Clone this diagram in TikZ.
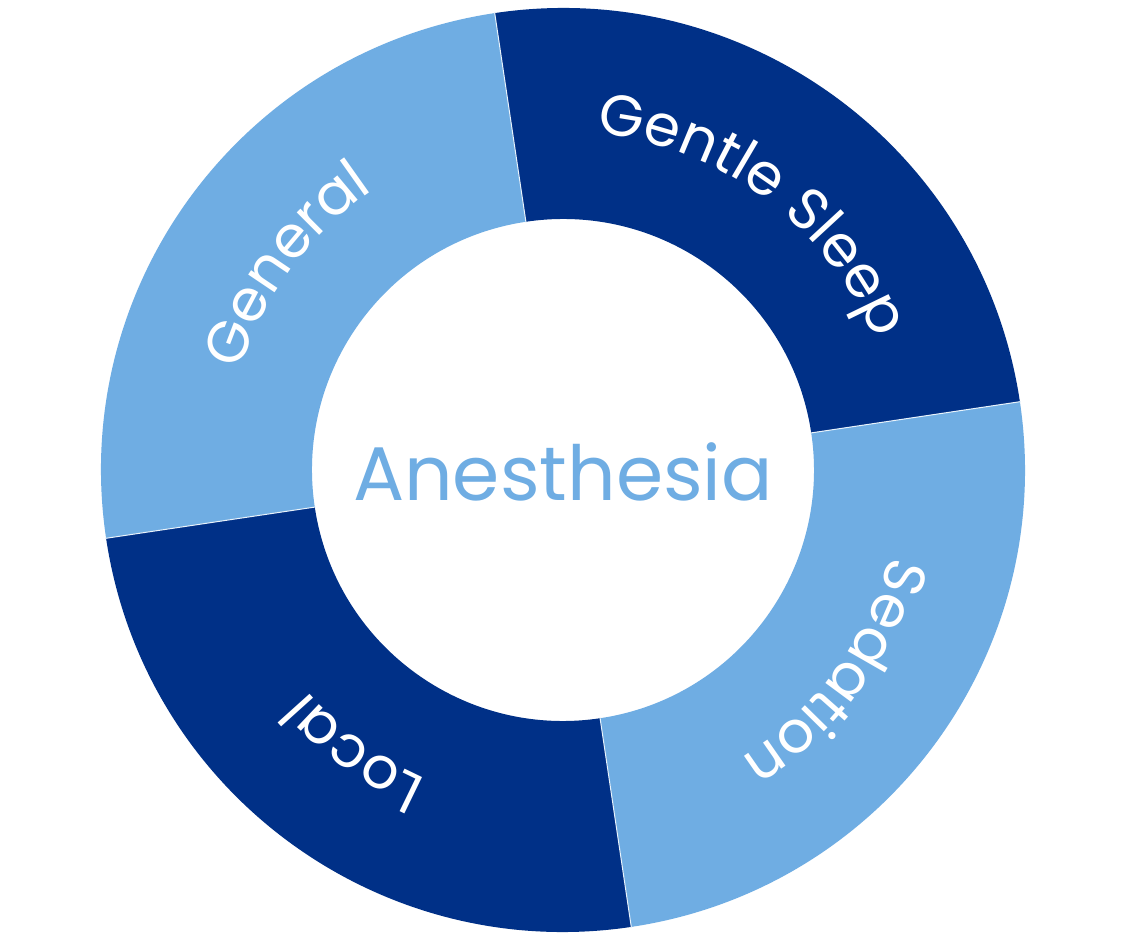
\documentclass[tikz,border=0pt]{standalone}
\usepackage{fontspec}
\setmainfont{Poppins}
\usetikzlibrary{decorations.text}
\definecolor{lightb}{HTML}{6FADE3}
\definecolor{darkb}{HTML}{003087}
\begin{document}
\begin{tikzpicture}[x=1pt,y=1pt,
  arclabel/.style={decorate,decoration={text along path,text align=center,
    text={|\fontsize{58}{58}\selectfont\color{white}|#1}}}]
\useasboundingbox[fill=white] (-563,-467) rectangle (573,470);
\def\Ro{462}\def\Ri{251}
\foreach \s/\c in {98.5/lightb,8.5/darkb,-81.5/lightb,-171.5/darkb}{
  \fill[\c] (\s+90:\Ro) arc[start angle=\s+90,end angle=\s,radius=\Ro]
    -- (\s:\Ri) arc[start angle=\s,end angle=\s+90,radius=\Ri] -- cycle;
}
\foreach \s in {98.5,8.5,-81.5,-171.5}{\draw[white!85!lightb,line width=1pt] (\s:\Ri-1) -- (\s:\Ro+1);}
\foreach \m/\t in {143.5/General,53.5/Gentle Sleep,-36.5/Sedation,-126.5/Local}{
  \path[arclabel=\t] (\m+44:338) arc[start angle=\m+44,end angle=\m-44,radius=338];
}
\node[text=lightb,font=\fontsize{76}{76}\selectfont] (center) at (0,-2) {Anesthesia};
\end{tikzpicture}
\end{document}
